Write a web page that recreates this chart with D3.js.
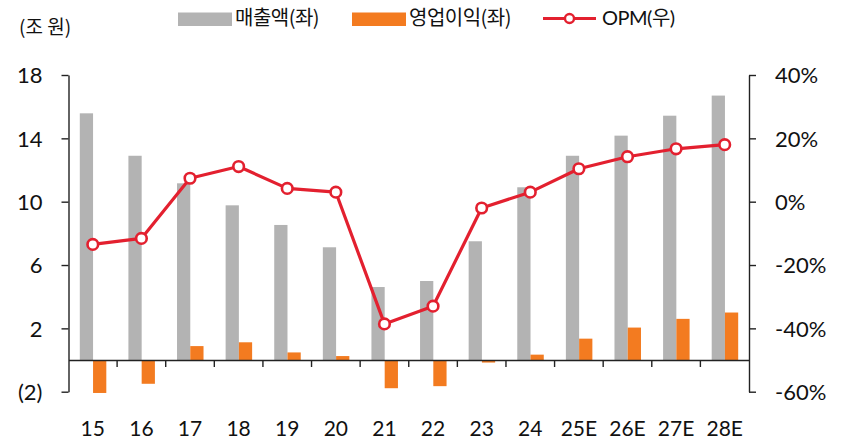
<!DOCTYPE html>
<html><head><meta charset="utf-8">
<script src="https://cdn.jsdelivr.net/npm/d3@7"></script>
<style>
html,body{margin:0;padding:0;background:#fff;}
svg{display:block;}
text{font-family:"Lato","Noto Sans CJK KR",sans-serif;fill:#111;}
.kr{font-family:"Noto Sans CJK KR","Noto Sans",sans-serif;}
.num{font-family:"Lato",sans-serif;font-weight:400;}
</style></head>
<body><svg id="chart" width="845" height="444"></svg>
<script>
const categories = ["15","16","17","18","19","20","21","22","23","24","25E","26E","27E","28E"];
const revenue = [15.58,12.9,11.16,9.77,8.53,7.12,4.61,4.99,7.5,10.91,12.9,14.17,15.43,16.7];
const opProfit = [-2.08,-1.5,0.88,1.12,0.48,0.25,-1.78,-1.65,-0.16,0.34,1.35,2.05,2.6,3.0];
const opm = [-13.5,-11.6,7.4,11.1,4.2,3.0,-38.6,-33.0,-2.0,3.0,10.4,14.2,16.7,18.0];
const leftTicks = [18,14,10,6,2,-2];
const leftTickLabels = ["18","14","10","6","2","(2)"];
const rightTicks = [40,20,0,-20,-40,-60];
const rightTickLabels = ["40%","20%","0%","-20%","-40%","-60%"];
const seriesNames = ["매출액(좌)","영업이익(좌)","OPM(우)"];
const unitLabel = "(조 원)";

const colors = {rev:"#b3b3b3", op:"#f37b20", line:"#e3202f", axis:"#222"};
const svg = d3.select("#chart");

const x = d3.scaleBand().domain(categories).range([68.5, 749]).padding(0);
const sub = d3.scaleBand().domain(["rev","op"]).range([-13, 13.5]).padding(0);
const yL = d3.scaleLinear().domain([-2, 18]).range([391.7, 75]);
const yR = d3.scaleLinear().domain([-60, 40]).range([391.7, 75]);
const cx = d => x(d) + x.bandwidth()/2;

// bars
const g = svg.append("g");
g.selectAll("rect.rev").data(categories).enter().append("rect")
  .attr("x", d => cx(d) + sub("rev"))
  .attr("width", sub.bandwidth())
  .attr("y", (d,i) => Math.min(yL(revenue[i]), yL(0)))
  .attr("height", (d,i) => Math.abs(yL(revenue[i]) - yL(0)))
  .attr("fill", colors.rev);
g.selectAll("rect.op").data(categories).enter().append("rect")
  .attr("x", d => cx(d) + sub("op"))
  .attr("width", sub.bandwidth())
  .attr("y", (d,i) => Math.min(yL(opProfit[i]), yL(0)))
  .attr("height", (d,i) => Math.abs(yL(opProfit[i]) - yL(0)))
  .attr("fill", colors.op);

// x axis line at zero
const xAxis = d3.axisBottom(x).tickSize(0).tickFormat(d => d);
const xa = svg.append("g").attr("transform", `translate(0,${yL(0)})`).call(xAxis);
xa.select(".domain").attr("stroke", colors.axis).attr("stroke-width", 1.4);
xa.selectAll(".tick text").attr("class","num").attr("y", 76).attr("dy", 0)
  .style("font-size", "21px").attr("fill", "#111");
// category boundary ticks
svg.append("g").selectAll("line").data(categories.slice(1)).enter().append("line")
  .attr("x1", d => x(d)).attr("x2", d => x(d))
  .attr("y1", yL(0)).attr("y2", yL(0) + 7)
  .attr("stroke", colors.axis).attr("stroke-width", 1.4);

// left axis
const la = svg.append("g").attr("transform", "translate(68.5,0)")
  .call(d3.axisLeft(yL).tickValues(leftTicks).tickSize(7).tickSizeOuter(0)
    .tickFormat((d,i) => leftTickLabels[i]));
la.select(".domain").attr("stroke", colors.axis).attr("stroke-width", 1.4);
la.selectAll(".tick line").attr("stroke", colors.axis).attr("stroke-width", 1.4);
la.selectAll(".tick text").attr("class","num").attr("x", -26).attr("dy", "0.36em")
  .style("font-size", "22px").attr("fill", "#111");

// right axis
const ra = svg.append("g").attr("transform", "translate(749,0)")
  .call(d3.axisRight(yR).tickValues(rightTicks).tickSize(7).tickSizeOuter(0)
    .tickFormat((d,i) => rightTickLabels[i]));
ra.select(".domain").attr("stroke", colors.axis).attr("stroke-width", 1.4);
ra.selectAll(".tick line").attr("stroke", colors.axis).attr("stroke-width", 1.4);
ra.selectAll(".tick text").attr("class","num").attr("x", 26).attr("dy", "0.36em")
  .style("font-size", "22px").attr("fill", "#111");

// OPM line
const line = d3.line().x((d,i) => cx(categories[i])).y(d => yR(d));
svg.append("path").datum(opm).attr("d", line)
  .attr("fill", "none").attr("stroke", colors.line).attr("stroke-width", 3.2)
  .attr("stroke-linejoin", "round");
svg.append("g").selectAll("circle").data(opm).enter().append("circle")
  .attr("cx", (d,i) => cx(categories[i])).attr("cy", d => yR(d)).attr("r", 5.3)
  .attr("fill", "#fff").attr("stroke", colors.line).attr("stroke-width", 2.6);

// unit label
svg.append("text").attr("class","kr").attr("x", 19).attr("y", 34)
  .style("font-size", "19px").text(unitLabel);

// legend
const lg = svg.append("g");
lg.append("rect").attr("x", 178).attr("y", 12.5).attr("width", 54).attr("height", 13.5).attr("fill", colors.rev);
lg.append("text").attr("class","kr").attr("x", 235).attr("y", 25).style("font-size","20px").style("letter-spacing","-0.5px").text(seriesNames[0]);
lg.append("rect").attr("x", 352).attr("y", 12.5).attr("width", 54).attr("height", 13.5).attr("fill", colors.op);
lg.append("text").attr("class","kr").attr("x", 409).attr("y", 25).style("font-size","20px").style("letter-spacing","-0.5px").text(seriesNames[1]);
lg.append("line").attr("x1", 543).attr("x2", 596).attr("y1", 18.5).attr("y2", 18.5).attr("stroke", colors.line).attr("stroke-width", 3);
lg.append("circle").attr("cx", 569.5).attr("cy", 18.5).attr("r", 4.5).attr("fill", "#fff").attr("stroke", colors.line).attr("stroke-width", 2.4);
lg.append("text").attr("x", 602).attr("y", 25).style("font-size","20px").style("letter-spacing","-0.5px")
  .style("font-family","Lato, 'Noto Sans CJK KR', sans-serif").text(seriesNames[2]);
</script>
</body></html>
